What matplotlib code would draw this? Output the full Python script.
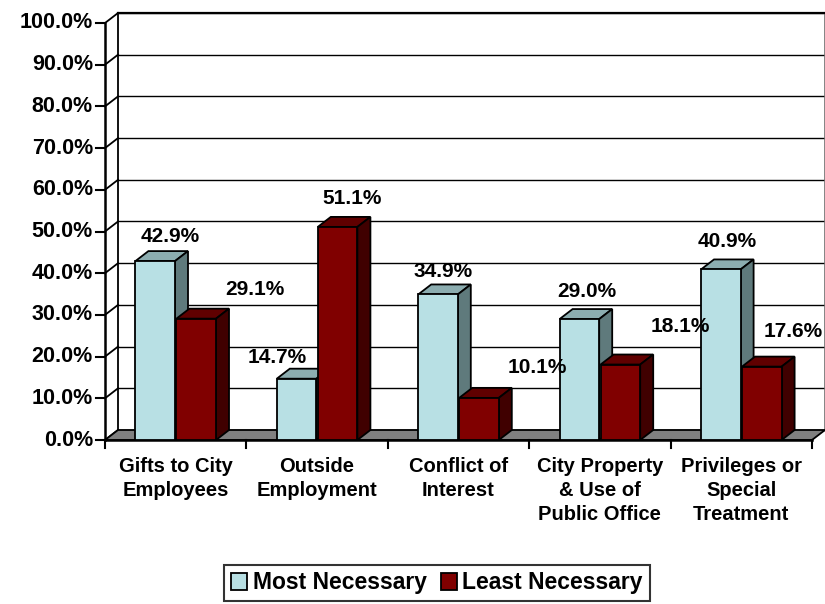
import numpy as np
import matplotlib
matplotlib.use("Agg")
import matplotlib.pyplot as plt
from matplotlib.patches import Polygon, Patch

plt.rcParams["font.family"] = ["Liberation Sans", "DejaVu Sans"]
plt.rcParams["font.weight"] = "bold"

categories = ["Gifts to City\nEmployees", "Outside\nEmployment", "Conflict of\nInterest",
              "City Property\n& Use of\nPublic Office", "Privileges or\nSpecial\nTreatment"]
most = [42.9, 14.7, 34.9, 29.0, 40.9]
least = [29.1, 51.1, 10.1, 18.1, 17.6]
yticks = np.arange(0, 101, 10)

# data label anchor points (x in category units, y in %)
label_x_most = [0.46, 1.22, 2.39, 3.41, 4.40]
label_y_most = [48.7, 19.9, 40.3, 35.5, 47.5]
label_x_least = [1.06, 1.75, 3.055, 4.07, 4.87]
label_y_least = [36.2, 57.8, 17.5, 27.1, 26.1]

c_most = ("#b8e0e4", "#8cadb0", "#5f7a7c")   # front, top, side
c_least = ("#800000", "#600000", "#400000")

dx, dy = 0.092, 2.4   # depth offset in data units
width = 0.28

fig = plt.figure(figsize=(8.25, 6.04), dpi=100)
ax = fig.add_axes([105/825, 164/604, 707/825, 417/604])
ax.set_xlim(0, 5)
ax.set_ylim(0, 100)
ax.axis("off")

n = len(categories)

# back wall gridlines and left side wall
for t in yticks:
    ax.plot([dx, n + dx], [t + dy, t + dy], color="black", lw=1.0, zorder=1, clip_on=False)
    ax.plot([0, dx], [t, t + dy], color="black", lw=1.3, zorder=1, clip_on=False)
    ax.plot([-0.065, 0], [t, t], color="black", lw=1.5, zorder=1, clip_on=False)
    ax.text(-0.085, t, "%.1f%%" % t, ha="right", va="center", fontsize=15.5,
            fontweight="bold")
ax.plot([dx, dx], [dy, 100 + dy], color="black", lw=1.3, zorder=1, clip_on=False)
ax.plot([0, 0], [0, 100], color="black", lw=1.8, zorder=1, clip_on=False)
ax.plot([n + dx, n + dx], [dy, 100 + dy], color="#707070", lw=1.2, zorder=1, clip_on=False)
ax.plot([dx, n + dx], [100 + dy, 100 + dy], color="black", lw=1.6, zorder=1, clip_on=False)

# floor
floor = Polygon([(0, 0), (n, 0), (n + dx, dy), (dx, dy)], closed=True,
                facecolor="#808080", edgecolor="black", lw=1.3, zorder=1.5, clip_on=False)
ax.add_patch(floor)
ax.plot([0, n], [0, 0], color="black", lw=1.8, zorder=1.6, clip_on=False)
for i in range(n + 1):
    ax.plot([i, i], [0, -2.0], color="black", lw=1.5, clip_on=False)


def bar3d(x0, v, colors, z):
    x1 = x0 + width
    ax.bar([x0], [v], width=width, align="edge", color=colors[0], edgecolor="black",
           lw=1.3, zorder=z + 0.2)
    top = Polygon([(x0, v), (x1, v), (x1 + dx, v + dy), (x0 + dx, v + dy)], closed=True,
                  facecolor=colors[1], edgecolor="black", lw=1.3, zorder=z, clip_on=False)
    side = Polygon([(x1, 0), (x1 + dx, dy), (x1 + dx, v + dy), (x1, v)], closed=True,
                   facecolor=colors[2], edgecolor="black", lw=1.3, zorder=z, clip_on=False)
    ax.add_patch(top)
    ax.add_patch(side)


z = 2
for i in range(n):
    bar3d(i + 0.215, most[i], c_most, z)
    z += 1
    bar3d(i + 0.505, least[i], c_least, z)
    z += 1

for i in range(n):
    ax.text(label_x_most[i], label_y_most[i], "%.1f%%" % most[i], ha="center", va="center",
            fontsize=15, fontweight="bold", zorder=50)
    ax.text(label_x_least[i], label_y_least[i], "%.1f%%" % least[i], ha="center", va="center",
            fontsize=15, fontweight="bold", zorder=50)
    ax.text(i + 0.5, -4.0, categories[i], ha="center", va="top", fontsize=14.5,
            fontweight="bold", linespacing=1.33)

handles = [Patch(facecolor=c_most[0], edgecolor="black", lw=1.3, label="Most Necessary"),
           Patch(facecolor=c_least[0], edgecolor="black", lw=1.3, label="Least Necessary")]
leg = fig.legend(handles=handles, loc="center", bbox_to_anchor=(437/825, 1 - 583/604),
                 ncol=2, frameon=True, fancybox=False, handlelength=0.7,
                 handleheight=0.7, handletextpad=0.25, columnspacing=0.6, borderpad=0.3,
                 prop={"weight": "bold", "size": 16.5})
leg.get_frame().set_edgecolor("black")
leg.get_frame().set_linewidth(1.5)

fig.savefig("out.png", dpi=100)
plt.close(fig)
